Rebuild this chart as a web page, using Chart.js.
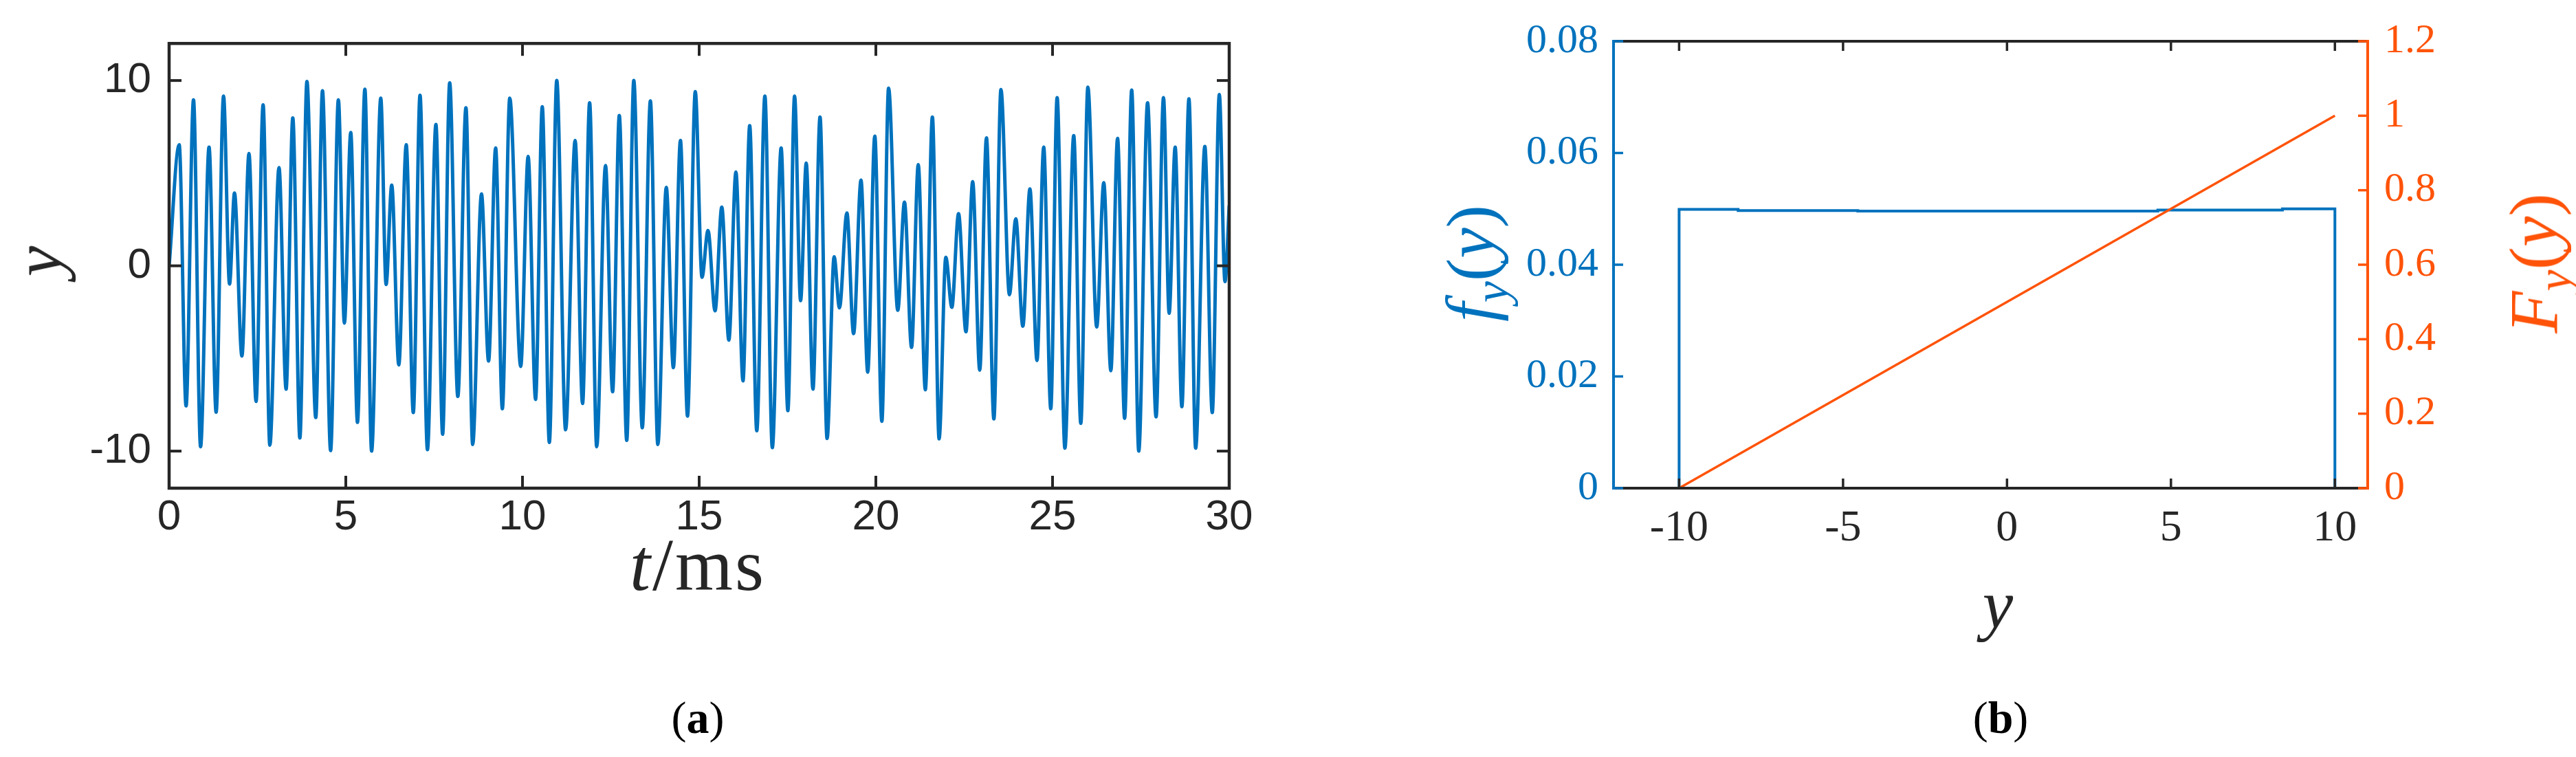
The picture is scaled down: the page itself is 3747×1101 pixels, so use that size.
<!DOCTYPE html>
<html>
<head>
<meta charset="utf-8">
<script src="https://cdn.jsdelivr.net/npm/chart.js@4.4.1/dist/chart.umd.min.js"></script>
<style>
html,body{margin:0;padding:0;background:#fff;}
#wrap{position:relative;width:3747px;height:1101px;overflow:hidden;background:#fff;}
canvas{position:absolute;top:0;}
.lbl{position:absolute;white-space:nowrap;font-family:'Liberation Serif','DejaVu Serif',serif;line-height:1;transform:translate(-50%,-50%);}
.rot{transform:translate(-50%,-50%) rotate(-90deg);}
.lbl sub{font-size:0.7em;vertical-align:-0.28em;line-height:0;}
</style>
</head>
<body>
<div id="wrap">
  <canvas id="ca" width="1900" height="1101" style="left:0px"></canvas>
  <canvas id="cb" width="1847" height="1101" style="left:1900px"></canvas>
  <div class="lbl rot" style="left:56px;top:380px;font-size:100px;color:#262626"><i>y</i></div>
  <div class="lbl" style="left:1015px;top:822px;font-size:108px;letter-spacing:3px;color:#262626"><i>t</i>/ms</div>
  <div class="lbl" style="left:1015px;top:1044px;font-size:66px;color:#000">(<b>a</b>)</div>
  <div class="lbl rot" style="left:2140px;top:383px;font-size:100px;color:#0072BD"><i>f</i><sub><i>y</i></sub>(<i>y</i>)</div>
  <div class="lbl rot" style="left:3686px;top:383px;font-size:100px;color:#FF5309"><i>F</i><sub><i>y</i></sub>(<i>y</i>)</div>
  <div class="lbl" style="left:2906px;top:880px;font-size:100px;color:#262626"><i>y</i></div>
  <div class="lbl" style="left:2910px;top:1044px;font-size:66px;color:#000">(<b>b</b>)</div>
</div>
<script>
const BLUE = '#0072BD';
const ORANGE = '#FF5309';
const AXIS = '#262626';

// ---------- Panel (a): time signal ----------
const timeMs = [
  0, 0.285, 0.48, 0.69, 0.89, 1.13, 1.33, 1.54, 1.71, 1.85, 2.06, 2.26, 2.46, 2.66, 2.85, 3.11, 3.31, 3.50, 3.70, 3.90, 4.15, 4.34, 4.57, 4.79,
  4.96, 5.14, 5.33, 5.54, 5.73, 5.99, 6.14, 6.30, 6.50, 6.71, 6.91, 7.10, 7.31, 7.55, 7.74, 7.94, 8.17, 8.40, 8.59, 8.84, 9.04, 9.24, 9.43, 9.64,
  9.95, 10.16, 10.37, 10.56, 10.76, 10.97, 11.22, 11.49, 11.70, 11.90, 12.10, 12.35, 12.55, 12.74, 12.95, 13.15, 13.39, 13.62, 13.83, 14.07, 14.27, 14.47, 14.67, 14.89,
  15.08, 15.25, 15.45, 15.64, 15.84, 16.04, 16.24, 16.43, 16.63, 16.86, 17.07, 17.32, 17.51, 17.70, 17.87, 18.03, 18.22, 18.42, 18.62, 18.82, 18.97, 19.18, 19.37, 19.58, 19.77, 19.97,
  20.17, 20.36, 20.62, 20.81, 21.01, 21.20, 21.40, 21.60, 21.79, 21.98, 22.15, 22.34, 22.55, 22.74, 22.94, 23.13, 23.34, 23.54, 23.78, 23.96, 24.16, 24.36, 24.56, 24.75, 24.95, 25.13,
  25.35, 25.60, 25.80, 26.00, 26.25, 26.45, 26.65, 26.84, 27.04, 27.24, 27.44, 27.69, 27.93, 28.14, 28.30, 28.47, 28.66, 28.86, 29.05, 29.31, 29.52, 29.72, 29.88, 30.0
];
const signalY = [
  0, 6.53, -7.56, 8.96, -9.76, 6.40, -7.90, 9.16, -0.98, 3.93, -4.87, 6.06, -7.32, 8.69, -9.68, 5.30, -6.66, 7.98, -9.29, 9.95, -8.19, 9.45, -9.97, 8.96,
  -3.09, 7.19, -8.45, 9.53, -10.0, 9.05, -1.01, 4.35, -5.35, 6.53, -7.92, 9.21, -9.92, 7.63, -9.09, 9.87, -7.05, 8.53, -9.64, 3.88, -5.14, 6.36, -7.71, 9.05,
  -5.43, 5.90, -7.21, 8.58, -9.53, 10.0, -8.85, 6.77, -7.43, 8.80, -9.76, 5.41, -6.80, 8.11, -9.42, 10.0, -8.74, 8.90, -9.64, 4.23, -5.50, 6.77, -8.11, 9.40,
  -0.62, 1.91, -2.43, 3.17, -4.01, 5.06, -6.21, 7.56, -8.90, 9.16, -9.81, 6.36, -7.82, 9.16, -1.88, 5.54, -6.66, 8.03, -9.32, 0.49, -2.27, 2.85, -3.66, 4.62, -5.74, 7.0,
  -8.39, 9.59, -2.40, 3.44, -4.40, 5.46, -6.69, 8.03, -9.34, 0.46, -2.24, 2.81, -3.56, 4.54, -5.63, 6.91, -8.26, 9.51, -1.56, 2.54, -3.26, 4.15, -5.11, 6.40, -7.71, 9.08,
  -9.84, 7.03, -8.50, 9.64, -3.30, 4.48, -5.66, 6.88, -8.23, 9.48, -10.0, 8.80, -8.15, 9.08, -2.56, 6.40, -7.60, 9.01, -9.84, 6.44, -7.92, 9.24, -0.85, 3.25
];
const xTicksA = [0, 5, 10, 15, 20, 25, 30];
const xTickLabelsA = ['0', '5', '10', '15', '20', '25', '30'];
const yTicksA = [-10, 0, 10];
const yTickLabelsA = ['-10', '0', '10'];

// ---------- Panel (b): PDF and CDF ----------
const pdfX = [-10, -10, -8.2, -4.55, 4.6, 8.4, 10];
const pdfY = [0, 0.0499, 0.0497, 0.0496, 0.0498, 0.0500, 0];
const cdfX = [-10, 10];
const cdfY = [0, 1];
const xTicksB = [-10, -5, 0, 5, 10];
const xTickLabelsB = ['-10', '-5', '0', '5', '10'];
const yTicksBL = [0, 0.02, 0.04, 0.06, 0.08];
const yTickLabelsBL = ['0', '0.02', '0.04', '0.06', '0.08'];
const yTicksBR = [0, 0.2, 0.4, 0.6, 0.8, 1, 1.2];
const yTickLabelsBR = ['0', '0.2', '0.4', '0.6', '0.8', '1', '1.2'];

function seg(ctx, x1, y1, x2, y2) { ctx.beginPath(); ctx.moveTo(x1, y1); ctx.lineTo(x2, y2); ctx.stroke(); }

const frameA = {
  id: 'frameA',
  afterDraw(chart) {
    const {ctx, chartArea: {left, right, top, bottom}, scales} = chart;
    const L = 18;
    ctx.save();
    ctx.strokeStyle = AXIS;
    ctx.lineWidth = 4;
    ctx.lineCap = 'butt';
    xTicksA.forEach(v => {
      const p = scales.x.getPixelForValue(v);
      seg(ctx, p, bottom, p, bottom - L);
      seg(ctx, p, top, p, top + L);
    });
    yTicksA.forEach(v => {
      const p = scales.y.getPixelForValue(v);
      seg(ctx, left, p, left + L, p);
      seg(ctx, right, p, right - L, p);
    });
    ctx.lineWidth = 4.5;
    ctx.lineJoin = 'miter';
    ctx.strokeRect(left, top, right - left, bottom - top);
    ctx.restore();
  }
};

const frameB = {
  id: 'frameB',
  afterDraw(chart) {
    const {ctx, chartArea: {left, right, top, bottom}, scales} = chart;
    const L = 14;
    ctx.save();
    ctx.lineCap = 'butt';
    ctx.strokeStyle = AXIS;
    ctx.lineWidth = 3.5;
    xTicksB.forEach(v => {
      const p = scales.x.getPixelForValue(v);
      seg(ctx, p, bottom, p, bottom - L);
      seg(ctx, p, top, p, top + L);
    });
    ctx.lineWidth = 4;
    seg(ctx, left, top, right, top);
    seg(ctx, left, bottom, right, bottom);
    ctx.strokeStyle = BLUE;
    ctx.lineWidth = 3.5;
    yTicksBL.forEach(v => {
      const p = scales.y.getPixelForValue(v);
      seg(ctx, left, p, left + L, p);
    });
    ctx.lineWidth = 4;
    seg(ctx, left, top - 2, left, bottom + 2);
    ctx.strokeStyle = ORANGE;
    ctx.lineWidth = 3.5;
    yTicksBR.forEach(v => {
      const p = scales.y2.getPixelForValue(v);
      seg(ctx, right, p, right - L, p);
    });
    ctx.lineWidth = 4;
    seg(ctx, right, top - 2, right, bottom + 2);
    ctx.restore();
  }
};

function fixedTicks(values) { return axis => { axis.ticks = values.map(v => ({value: v})); }; }
const noGrid = {display: false, drawTicks: false, tickLength: 0};

new Chart(document.getElementById('ca'), {
  type: 'line',
  data: {
    datasets: [{
      data: timeMs.map((t, i) => ({x: t, y: signalY[i]})),
      borderColor: BLUE,
      borderWidth: 5,
      pointRadius: 0,
      fill: false,
      cubicInterpolationMode: 'monotone'
    }]
  },
  options: {
    responsive: false, animation: false, devicePixelRatio: 1, events: [],
    layout: {padding: {left: 0, top: 48, right: 112, bottom: 0}},
    plugins: {legend: {display: false}, tooltip: {enabled: false}},
    scales: {
      x: {
        type: 'linear', min: 0, max: 30,
        afterBuildTicks: fixedTicks(xTicksA),
        afterFit: s => { s.height = 391; },
        grid: noGrid, border: {display: false},
        ticks: {autoSkip: false, maxRotation: 0, padding: 6, color: AXIS,
          font: {family: "'Liberation Sans', Arial, sans-serif", size: 62},
          callback: (v, i) => xTickLabelsA[i]}
      },
      y: {
        type: 'linear', min: -12, max: 12,
        afterBuildTicks: fixedTicks(yTicksA),
        afterFit: s => { s.width = 246; },
        grid: noGrid, border: {display: false},
        ticks: {autoSkip: false, padding: 26, color: AXIS,
          font: {family: "'Liberation Sans', Arial, sans-serif", size: 62},
          callback: (v, i) => yTickLabelsA[i]}
      }
    }
  },
  plugins: [frameA]
});

new Chart(document.getElementById('cb'), {
  type: 'line',
  data: {
    datasets: [
      {
        data: cdfX.map((x, i) => ({x: x, y: cdfY[i]})),
        yAxisID: 'y2', borderColor: ORANGE, borderWidth: 3.5, pointRadius: 0, fill: false, order: 0
      },
      {
        data: pdfX.map((x, i) => ({x: x, y: pdfY[i]})),
        yAxisID: 'y', borderColor: BLUE, borderWidth: 4, pointRadius: 0, fill: false, stepped: 'before', order: 1
      }
    ]
  },
  options: {
    responsive: false, animation: false, devicePixelRatio: 1, events: [],
    layout: {padding: {left: 0, top: 48, right: 0, bottom: 0}},
    plugins: {legend: {display: false}, tooltip: {enabled: false}},
    scales: {
      x: {
        type: 'linear', min: -12, max: 11,
        afterBuildTicks: fixedTicks(xTicksB),
        afterFit: s => { s.height = 391; },
        grid: noGrid, border: {display: false},
        ticks: {autoSkip: false, maxRotation: 0, padding: 21, color: AXIS,
          font: {family: "'Liberation Serif', 'Times New Roman', serif", size: 64},
          callback: (v, i) => xTickLabelsB[i]}
      },
      y: {
        type: 'linear', position: 'left', min: 0, max: 0.08,
        afterBuildTicks: fixedTicks(yTicksBL),
        afterFit: s => { s.width = 447; },
        grid: noGrid, border: {display: false},
        ticks: {autoSkip: false, padding: 22, color: BLUE,
          font: {family: "'Liberation Serif', 'Times New Roman', serif", size: 60},
          callback: (v, i) => yTickLabelsBL[i]}
      },
      y2: {
        type: 'linear', position: 'right', min: 0, max: 1.2,
        afterBuildTicks: fixedTicks(yTicksBR),
        afterFit: s => { s.width = 303; },
        grid: noGrid, border: {display: false},
        ticks: {autoSkip: false, padding: 24, color: ORANGE,
          font: {family: "'Liberation Serif', 'Times New Roman', serif", size: 60},
          callback: (v, i) => yTickLabelsBR[i]}
      }
    }
  },
  plugins: [frameB]
});
</script>
</body>
</html>
